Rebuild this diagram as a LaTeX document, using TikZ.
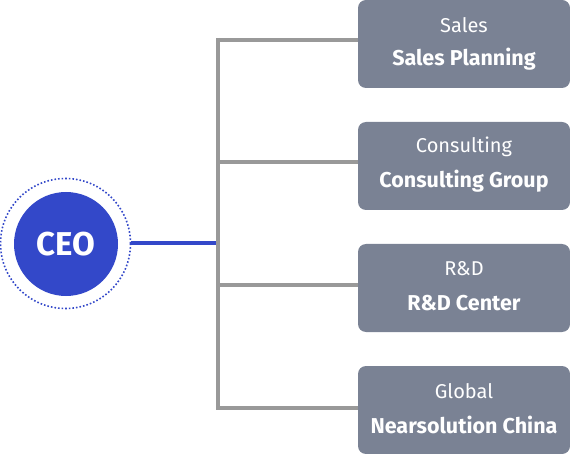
\documentclass[tikz,border=0pt]{standalone}
\usepackage{fontspec}
\setmainfont{Fira Sans}
\usetikzlibrary{calc}
\definecolor{ceoblue}{HTML}{3348C9}
\definecolor{boxgray}{HTML}{7A8294}
\definecolor{linegray}{HTML}{999999}
\begin{document}
\begin{tikzpicture}[x=1pt, y=-1pt,
        ceo_style/.style={circle,fill=ceoblue,minimum size=104pt,inner sep=0pt,text=white,font=\fontsize{33}{36}\selectfont\bfseries},
        ring_style/.style={circle,draw=ceoblue,line width=1.6pt,dash pattern=on 1.6pt off 2pt,minimum size=130pt,inner sep=0pt},
        box_style/.style={rectangle,rounded corners=8pt,fill=boxgray,minimum width=212pt,minimum height=88pt,inner sep=0pt},
        dept_style/.style={text=white,font=\fontsize{20}{22}\selectfont},
        team_style/.style={text=white,font=\fontsize{21.5}{24}\selectfont\bfseries},
        edge_style/.style={draw=linegray,line width=4pt,-},
        ceo_edge_style/.style={draw=ceoblue,line width=4pt,-}]
        \useasboundingbox (0,0) rectangle (570,454);

        \node [ring_style](ring) at (65.5,243.5) {};
        \node [ceo_style](ceo) at (66,244) {CEO};

        \node [box_style](b1) at (464,44) {};
        \node [box_style](b2) at (464,166) {};
        \node [box_style](b3) at (464,288) {};
        \node [box_style](b4) at (464,410) {};

        \node [dept_style](d1) at ($(b1.center)+(0,-19)$) {Sales};
        \node [team_style](m1) at ($(b1.center)+(0,15)$) {Sales Planning};
        \node [dept_style](d2) at ($(b2.center)+(0,-19)$) {Consulting};
        \node [team_style](m2) at ($(b2.center)+(0,15)$) {Consulting Group};
        \node [dept_style](d3) at ($(b3.center)+(0,-19)$) {R\&D};
        \node [team_style](m3) at ($(b3.center)+(0,15)$) {R\&D Center};
        \node [dept_style](d4) at ($(b4.center)+(0,-19)$) {Global};
        \node [team_style](m4) at ($(b4.center)+(0,15)$) {Nearsolution China};

        \coordinate (j0) at (218,243);
        \coordinate (t1) at (218,40);
        \coordinate (t2) at (218,162);
        \coordinate (t3) at (218,285);
        \coordinate (t4) at (218,408);

        \draw [edge_style] ($(t1)+(0,-2)$) -- ($(t4)+(0,2)$);
        \draw [edge_style] (t1) -- (t1 -| b1.west);
        \draw [edge_style] (t2) -- (t2 -| b2.west);
        \draw [edge_style] (t3) -- (t3 -| b3.west);
        \draw [edge_style] (t4) -- (t4 -| b4.west);
        \draw [ceo_edge_style] (ring.east |- j0) -- ($(j0)+(-2,0)$);
\end{tikzpicture}
\end{document}
